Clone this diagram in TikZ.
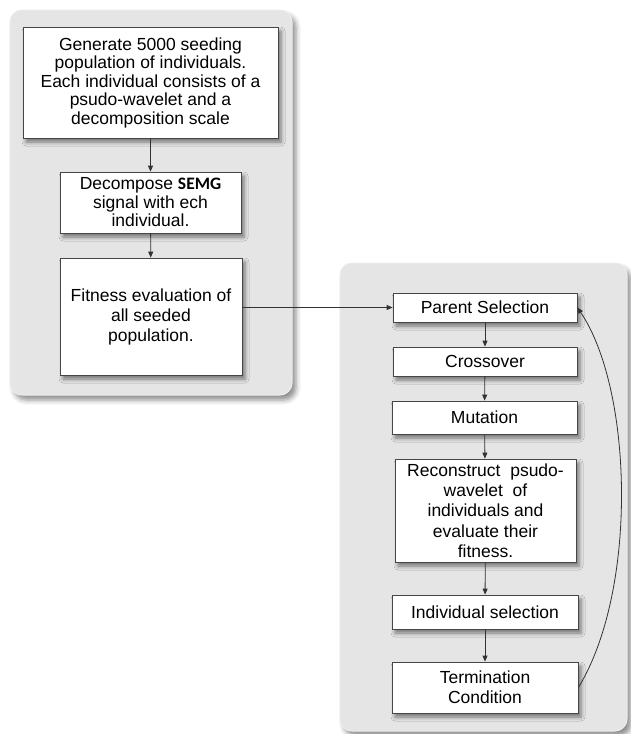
\documentclass[tikz,border=0pt]{standalone}
\usepackage{fontspec}
\setmainfont{Liberation Sans}
\newfontfamily\calfont{Carlito}
\usetikzlibrary{shadows,shadows.blur,arrows.meta}
\definecolor{panelfill}{RGB}{229,229,229}
\definecolor{boxline}{RGB}{70,70,70}
\definecolor{arrowline}{RGB}{50,50,50}
\tikzset{
  panel/.style={rounded corners=12pt, fill=panelfill, draw=white!85!gray, line width=1pt,
    blur shadow={shadow xshift=4pt, shadow yshift=-5pt, shadow blur radius=5pt, shadow opacity=45}},
  flowbox/.style={draw=boxline, fill=white, line width=0.8pt, inner sep=0pt, align=center,
    font=\fontsize{17.5}{18.5}\selectfont,
    blur shadow={shadow xshift=3pt, shadow yshift=-4pt, shadow blur radius=4pt, shadow opacity=50}},
  flowarrow/.style={draw=arrowline, line width=0.8pt, -{Triangle[length=6pt,width=5pt]}}
}
\begin{document}
\begin{tikzpicture}[x=1pt,y=-1pt]
\useasboundingbox (0,0) rectangle (630,734);
% panels
\path[panel] (10,10) rectangle (292,395);
\path[panel] (340,263) rectangle (627,731);
% left column
\node[flowbox, minimum width=255pt, minimum height=111pt] (gen) at (150.5,82.5)
  {Generate 5000 seeding\\population of individuals.\\Each individual consists of a\\psudo-wavelet and a\\decomposition scale};
\node[flowbox, minimum width=181pt, minimum height=61pt] (dec) at (150.5,202.5)
  {Decompose {\calfont\bfseries SEMG}\\signal with ech\\individual.};
\node[flowbox, minimum width=182pt, minimum height=117pt, font=\fontsize{17.5}{20}\selectfont] (fit) at (151,316.5)
  {Fitness evaluation of\\all seeded\\population.};
% right column
\node[flowbox, minimum width=184pt, minimum height=29pt] (ps) at (485,307.5) {Parent Selection};
\node[flowbox, minimum width=184pt, minimum height=29pt] (cro) at (485,361.5) {Crossover};
\node[flowbox, minimum width=185pt, minimum height=33pt] (mut) at (484.5,417.5) {Mutation};
\node[flowbox, minimum width=181pt, minimum height=103pt, font=\fontsize{17.5}{20.3}\selectfont] (rec) at (485.5,510.5)
  {Reconstruct\ \ psudo-\\wavelet\ \ of\\individuals and\\evaluate their\\fitness.};
\node[flowbox, minimum width=186pt, minimum height=34pt] (ind) at (485,612) {Individual selection};
\node[flowbox, minimum width=186pt, minimum height=51pt, font=\fontsize{17.5}{20}\selectfont] (term) at (485,687.5) {Termination\\Condition};
% connectors
\draw[flowarrow] (gen) -- (dec);
\draw[flowarrow] (dec) -- (fit);
\draw[flowarrow] (fit.east |- ps.west) -- (ps.west);
\draw[flowarrow] (ps) -- (cro);
\draw[flowarrow] (cro) -- (mut);
\draw[flowarrow] (mut) -- (rec);
\draw[flowarrow] (rec) -- (ind);
\draw[flowarrow] (ind) -- (term);
\draw[flowarrow] (term.east) .. controls (638,590) and (633,390) .. (ps.east);
\end{tikzpicture}
\end{document}
